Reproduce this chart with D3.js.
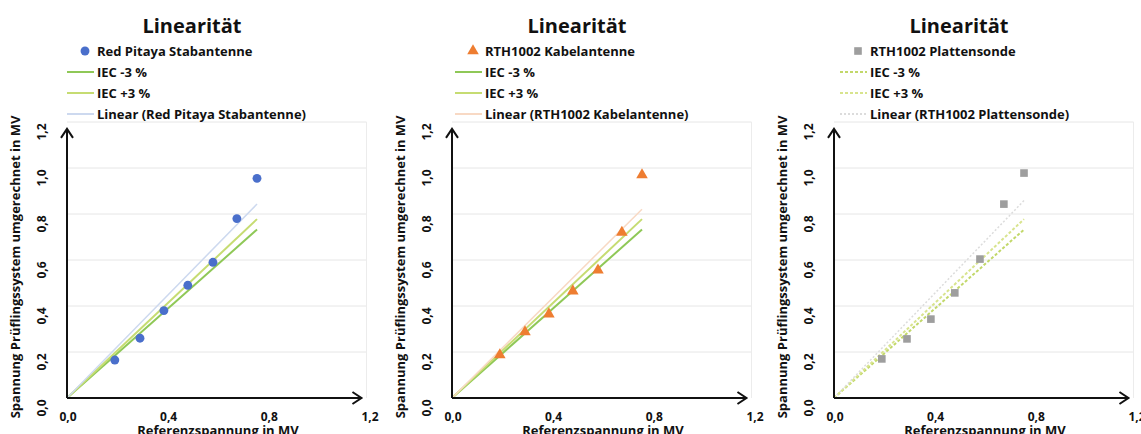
<!DOCTYPE html>
<html>
<head>
<meta charset="utf-8">
<script src="https://cdn.jsdelivr.net/npm/d3@7"></script>
<style>
  body { margin: 0; background: #fff; }
  text { font-family: "Open Sans", "DejaVu Sans", sans-serif; font-weight: bold; fill: #111; }
</style>
</head>
<body>
<div id="chart"></div>
<script>
// Data
const xValues = [0.19, 0.29, 0.385, 0.48, 0.58, 0.675, 0.755];
const redPitaya = [0.165, 0.26, 0.38, 0.49, 0.59, 0.78, 0.955];
const kabelantenne = [0.187, 0.287, 0.365, 0.465, 0.556, 0.72, 0.97];
const plattensonde = [0.17, 0.257, 0.343, 0.457, 0.604, 0.843, 0.978];
const seriesNames = ['Red Pitaya Stabantenne', 'RTH1002 Kabelantenne', 'RTH1002 Plattensonde'];
const xTicks = [0, 0.4, 0.8, 1.2];
const yTicks = [0, 0.2, 0.4, 0.6, 0.8, 1.0, 1.2];
const iecTolerance = 0.03;

const panels = [
  { name: seriesNames[0], values: redPitaya, marker: 'circle', color: '#4a6fcb', trend: '#cdd9ef', iecLo: '#8fc857', iecHi: '#c6dc72', iecDash: null, trendDash: null, ox: 67, legendX: 97 },
  { name: seriesNames[1], values: kabelantenne, marker: 'triangle', color: '#ee7d31', trend: '#f8d9c4', iecLo: '#8fc857', iecHi: '#c6dc72', iecDash: null, trendDash: null, ox: 452, legendX: 485 },
  { name: seriesNames[2], values: plattensonde, marker: 'square', color: '#9e9e9e', trend: '#dcdcdc', iecLo: '#c2d86a', iecHi: '#d8e48e', iecDash: '3,2', trendDash: '2,2', ox: 834, legendX: 870 }
];

const dimensions = { width: 1141, height: 434, originY: 398 };

const svg = d3.select('#chart')
  .append('svg')
  .attr('width', dimensions.width)
  .attr('height', dimensions.height)

// Scales (relative to the origin of each panel)
const xScale = d3.scaleLinear().domain([0, 1.2]).range([0, 302])
const yScale = d3.scaleLinear().domain([0, 1.2]).range([0, -276])

const fmt = d => d3.format('.1f')(d).replace('.', ',')

const lineGen = d3.line()
  .x(d => xScale(d[0]))
  .y(d => yScale(d[1]))

const symbolFor = {
  circle: d3.symbol().type(d3.symbolCircle).size(62),
  triangle: d3.symbol().type(d3.symbolTriangle).size(58),
  square: d3.symbol().type(d3.symbolSquare).size(58)
}

panels.forEach(p => {
  const g = svg.append('g')
    .attr('transform', `translate(${p.ox}, ${dimensions.originY})`)

  const xMax = d3.max(xValues)
  const pts = xValues.map((x, i) => [x, p.values[i]])

  // gridlines
  g.append('g')
    .selectAll('line')
    .data(yTicks.slice(1))
    .join('line')
    .attr('x1', 0)
    .attr('x2', xScale(1.19))
    .attr('y1', d => yScale(d))
    .attr('y2', d => yScale(d))
    .attr('stroke', '#e6e6e6')
    .attr('stroke-width', 1)

  g.append('line')
    .attr('x1', xScale(1.19)).attr('x2', xScale(1.19))
    .attr('y1', 0).attr('y2', yScale(1.2))
    .attr('stroke', '#ececec')

  // IEC tolerance lines
  g.append('path')
    .datum([[0, 0], [xMax, xMax * (1 - iecTolerance)]])
    .attr('d', lineGen)
    .attr('fill', 'none')
    .attr('stroke', p.iecLo)
    .attr('stroke-width', 2)
    .attr('stroke-dasharray', p.iecDash)

  g.append('path')
    .datum([[0, 0], [xMax, xMax * (1 + iecTolerance)]])
    .attr('d', lineGen)
    .attr('fill', 'none')
    .attr('stroke', p.iecHi)
    .attr('stroke-width', 2)
    .attr('stroke-dasharray', p.iecDash)

  // Linear trendline through origin
  const slope = d3.sum(pts, d => d[0] * d[1]) / d3.sum(pts, d => d[0] * d[0])
  g.append('path')
    .datum([[0, 0], [xMax, xMax * slope]])
    .attr('d', lineGen)
    .attr('fill', 'none')
    .attr('stroke', p.trend)
    .attr('stroke-width', 1.5)
    .attr('stroke-dasharray', p.trendDash)

  // markers
  g.append('g')
    .selectAll('path')
    .data(pts)
    .join('path')
    .attr('d', symbolFor[p.marker])
    .attr('transform', d => `translate(${xScale(d[0])}, ${yScale(d[1])})`)
    .attr('fill', p.color)

  // axes as arrows
  const xEnd = xScale(1.17)
  const yEnd = yScale(1.17)
  g.append('path')
    .attr('d', `M0,0H${xEnd}M${xEnd - 9},-6L${xEnd},0L${xEnd - 9},6`)
    .attr('fill', 'none')
    .attr('stroke', '#111')
    .attr('stroke-width', 2)
  g.append('path')
    .attr('d', `M0,0V${yEnd}M-6,${yEnd + 9}L0,${yEnd}L6,${yEnd + 9}`)
    .attr('fill', 'none')
    .attr('stroke', '#111')
    .attr('stroke-width', 2)

  // tick labels
  g.append('g')
    .selectAll('text')
    .data(xTicks)
    .join('text')
    .attr('x', d => xScale(d) + 1)
    .attr('y', 23)
    .attr('text-anchor', 'middle')
    .attr('font-size', '12px')
    .text(fmt)

  g.append('g')
    .selectAll('text')
    .data(yTicks)
    .join('text')
    .attr('transform', d => `translate(-21, ${yScale(d) + 10}) rotate(-90)`)
    .attr('text-anchor', 'middle')
    .attr('font-size', '12px')
    .text(fmt)

  // axis titles
  g.append('text')
    .attr('x', xScale(0.6))
    .attr('y', 37)
    .attr('text-anchor', 'middle')
    .attr('font-size', '13px')
    .text('Referenzspannung in MV')

  g.append('text')
    .attr('transform', `translate(-47, ${yScale(0.57)}) rotate(-90)`)
    .attr('text-anchor', 'middle')
    .attr('font-size', '13px')
    .text('Spannung Prüflingssystem umgerechnet in MV')

  // title
  svg.append('text')
    .attr('x', p.ox + 125)
    .attr('y', 33)
    .attr('text-anchor', 'middle')
    .attr('font-size', '20px')
    .text('Linearität')

  // legend
  const legendRows = [
    { label: p.name, type: 'marker' },
    { label: 'IEC -3 %', type: 'line', color: p.iecLo, dash: p.iecDash },
    { label: 'IEC +3 %', type: 'line', color: p.iecHi, dash: p.iecDash },
    { label: `Linear (${p.name})`, type: 'line', color: p.trend, dash: p.trendDash }
  ]
  const rowY = [51, 72, 93, 114]
  const lg = svg.append('g')
  legendRows.forEach((r, i) => {
    if (r.type === 'marker') {
      lg.append('path')
        .attr('d', symbolFor[p.marker])
        .attr('transform', `translate(${p.legendX - 12}, ${rowY[i]})`)
        .attr('fill', p.color)
    } else {
      lg.append('line')
        .attr('x1', p.legendX - 30).attr('x2', p.legendX - 3)
        .attr('y1', rowY[i]).attr('y2', rowY[i])
        .attr('stroke', r.color)
        .attr('stroke-width', 2)
        .attr('stroke-dasharray', r.dash)
    }
    lg.append('text')
      .attr('x', p.legendX)
      .attr('y', rowY[i] + 5)
      .attr('font-size', '13px')
      .text(r.label)
  })
})
</script>
</body>
</html>
